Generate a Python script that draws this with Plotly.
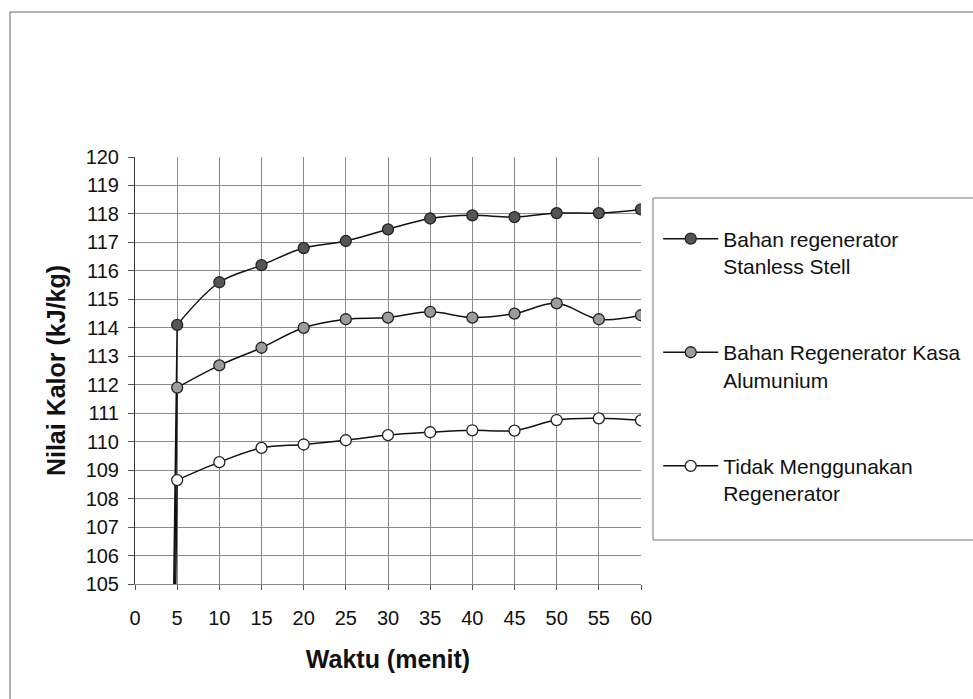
import plotly.graph_objects as go

waktu = [0, 5, 10, 15, 20, 25, 30, 35, 40, 45, 50, 55, 60]
stainless = [0, 114.1, 115.6, 116.2, 116.8, 117.05, 117.46, 117.84, 117.95, 117.89, 118.03, 118.03, 118.16]
alumunium = [0, 111.9, 112.68, 113.3, 114.0, 114.3, 114.36, 114.56, 114.36, 114.5, 114.86, 114.3, 114.44]
tanpa = [0, 108.65, 109.28, 109.78, 109.9, 110.05, 110.23, 110.33, 110.4, 110.39, 110.76, 110.82, 110.75]

names = ["Bahan regenerator<br>Stanless Stell",
         "Bahan Regenerator Kasa<br>Alumunium",
         "Tidak Menggunakan<br>Regenerator"]
fills = ["#555555", "#9c9c9c", "#ffffff"]
series = [stainless, alumunium, tanpa]

FONT = "Liberation Sans, Arial, sans-serif"

fig = go.Figure()
for i, (nm, ys, fc) in enumerate(zip(names, series, fills)):
    # steep start segment (t = 0 -> 5), drawn straight
    fig.add_trace(go.Scatter(
        x=waktu[:2], y=ys[:2], mode="lines", showlegend=False,
        hoverinfo="skip", legendgroup=f"g{i}",
        line=dict(color="#111111", width=1.5),
    ))
for i, (nm, ys, fc) in enumerate(zip(names, series, fills)):
    fig.add_trace(go.Scatter(
        x=waktu[1:], y=ys[1:], name=nm, mode="lines+markers",
        legendgroup=f"g{i}",
        line=dict(color="#111111", width=1.5, shape="spline", smoothing=1.0),
        marker=dict(size=11, color=fc, line=dict(color="#222222", width=1.3)),
    ))

fig.update_layout(
    width=973, height=699,
    margin=dict(l=135, r=332, t=157, b=115, autoexpand=False),
    paper_bgcolor="white", plot_bgcolor="white",
    font=dict(family=FONT, size=20, color="#111111"),
    showlegend=True,
    legend=dict(
        x=1.034, y=0.856, xanchor="left", yanchor="top",
        font=dict(family=FONT, size=21, color="#111111"),
        bgcolor="rgba(0,0,0,0)", borderwidth=0,
        tracegroupgap=56, valign="top", itemwidth=55,
    ),
    xaxis=dict(
        range=[0, 60], tickmode="linear", tick0=0, dtick=5,
        showgrid=True, gridcolor="#8a8a8a", gridwidth=1,
        showline=True, linecolor="#8a8a8a", linewidth=1, mirror=False,
        ticks="outside", ticklen=5, tickcolor="#555555",
        ticklabelstandoff=11, zeroline=False,
        tickfont=dict(size=20),
        title=dict(text="<b>Waktu (menit)</b>", font=dict(size=25), standoff=22),
    ),
    yaxis=dict(
        range=[105, 120], tickmode="linear", tick0=105, dtick=1,
        showgrid=True, gridcolor="#8a8a8a", gridwidth=1,
        showline=True, linecolor="#333333", linewidth=1,
        ticks="outside", ticklen=6, tickcolor="#555555",
        ticklabelstandoff=5, zeroline=False,
        tickfont=dict(size=20),
        title=dict(text="<b>Nilai Kalor (kJ/kg)</b>", font=dict(size=25), standoff=12),
    ),
    shapes=[
        dict(type="rect", xref="paper", yref="paper",
             x0=(653 - 135) / 506, x1=(990 - 135) / 506,
             y0=(584 - 540) / 427, y1=(584 - 198) / 427,
             line=dict(color="#777777", width=1)),
        dict(type="rect", xref="paper", yref="paper",
             x0=(10 - 135) / 506, x1=(1000 - 135) / 506,
             y0=(584 - 720) / 427, y1=(584 - 12) / 427,
             line=dict(color="#666666", width=1)),
    ],
)

fig.write_html("out.html")
